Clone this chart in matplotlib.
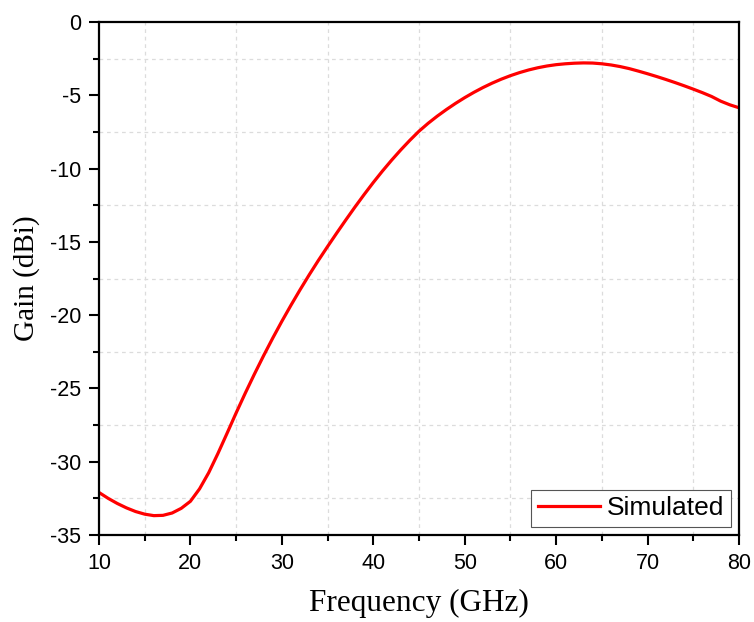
import numpy as np
import matplotlib.pyplot as plt
from matplotlib.ticker import MultipleLocator

plt.rcParams['axes.unicode_minus'] = False

# 曲线数据（频率 GHz，增益 dBi）
freq = [10, 11, 12, 13, 14, 15, 16, 17, 18, 19, 20, 21, 22, 23, 24, 25, 26, 27, 28,
        29, 30, 31, 32, 33, 34, 35, 36, 37, 38, 39, 40, 41, 42, 43, 44, 45, 46, 47,
        48, 49, 50, 51, 52, 53, 54, 55, 56, 57, 58, 59, 60, 61, 62, 63, 64, 65, 66,
        67, 68, 69, 70, 71, 72, 73, 74, 75, 76, 77, 78, 79, 80]
gain = [-32.1, -32.5, -32.85, -33.15, -33.4, -33.58, -33.68, -33.66, -33.5, -33.18,
        -32.7, -31.85, -30.75, -29.45, -28.07, -26.67, -25.32, -24.02, -22.77, -21.57,
        -20.42, -19.32, -18.26, -17.24, -16.26, -15.32, -14.4, -13.5, -12.62, -11.77,
        -10.95, -10.17, -9.43, -8.73, -8.07, -7.45, -6.91, -6.42, -5.97, -5.55, -5.16,
        -4.8, -4.47, -4.17, -3.9, -3.66, -3.45, -3.27, -3.12, -3.0, -2.91, -2.85,
        -2.81, -2.79, -2.8, -2.85, -2.93, -3.04, -3.18, -3.35, -3.53, -3.72, -3.92,
        -4.13, -4.35, -4.58, -4.82, -5.08, -5.4, -5.65, -5.85]

fig = plt.figure(figsize=(7.54, 6.22), dpi=100)
ax = fig.add_axes([0.1313, 0.1399, 0.8488, 0.8247])

ax.plot(freq, gain, color='red', linewidth=2.3, label='Simulated')

ax.set_xlim(10, 80)
ax.set_ylim(-35, 0)
ax.xaxis.set_major_locator(MultipleLocator(10))
ax.xaxis.set_minor_locator(MultipleLocator(5))
ax.yaxis.set_major_locator(MultipleLocator(5))
ax.yaxis.set_minor_locator(MultipleLocator(2.5))
ax.grid(which='minor', color='#dcdcdc', linestyle=(0, (3, 3)), linewidth=0.9)

ax.tick_params(which='major', direction='out', length=7.5, width=1.5, labelsize=15.5,
               pad=5.5, top=False, right=False)
ax.tick_params(which='minor', direction='out', length=4.3, width=1.5, top=False, right=False)
for lab in ax.get_xticklabels() + ax.get_yticklabels():
    lab.set_family('Liberation Sans')
for s in ax.spines.values():
    s.set_linewidth(1.6)

ax.set_xlabel('Frequency (GHz)', fontsize=22.5, family='Liberation Serif', labelpad=11)
ax.set_ylabel('Gain (dBi)', fontsize=21, family='Liberation Serif', labelpad=7)

leg = ax.legend(loc='lower right', prop={'family': 'Liberation Sans', 'size': 19},
                fancybox=False, framealpha=1, edgecolor='#555555',
                borderpad=0.25, handlelength=2.35, handletextpad=0.27,
                borderaxespad=0.3)
leg.get_frame().set_linewidth(0.8)

fig.savefig('out.png', dpi=100)
